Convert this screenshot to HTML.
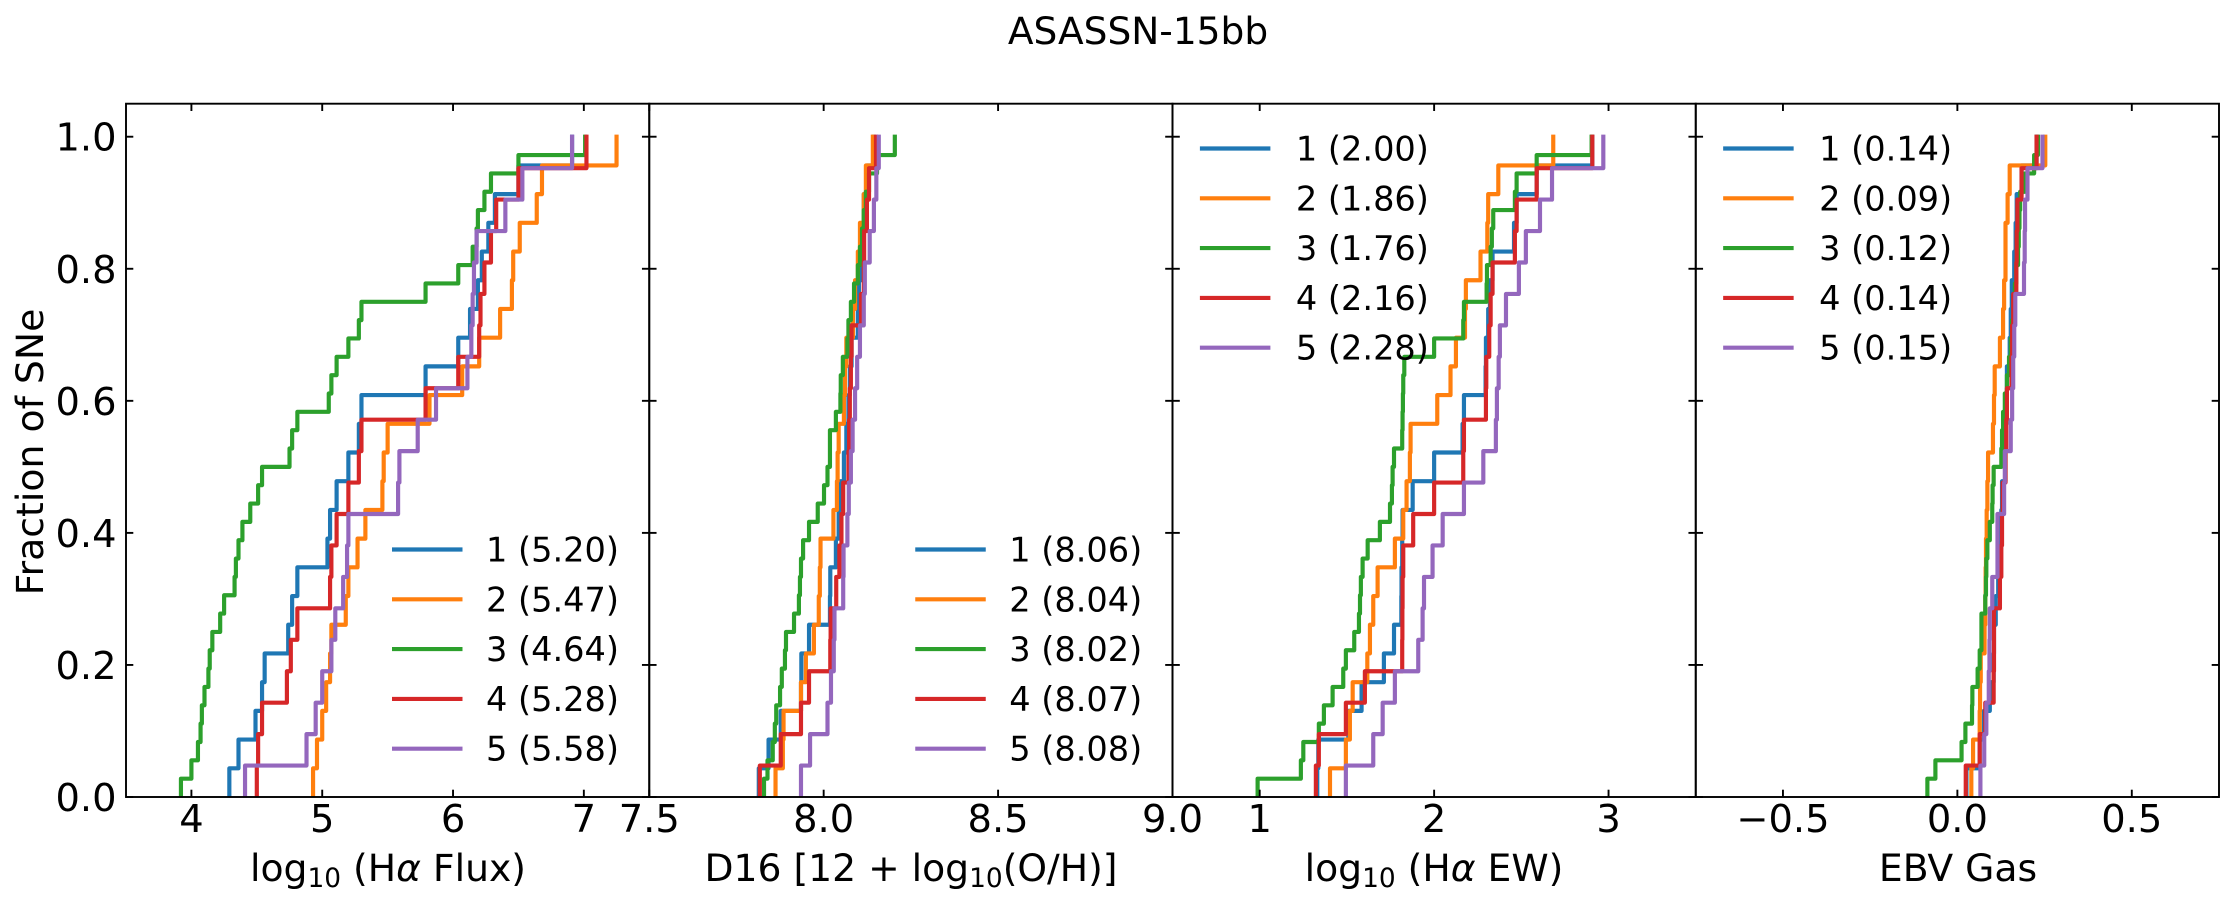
<!DOCTYPE html>
<html lang="en">
<head>
<meta charset="utf-8">
<title>ASASSN-15bb</title>
<style>
html,body{margin:0;padding:0;background:#fff;}
body{width:2233px;height:904px;overflow:hidden;}
svg{display:block;}
text{font-family:"DejaVu Sans","Liberation Sans",sans-serif;fill:#000;}
</style>
</head>
<body>
<svg id="chart" xmlns="http://www.w3.org/2000/svg" width="2233" height="904" viewBox="0 0 2233 904">
  <rect x="0" y="0" width="2233" height="904" fill="#fff"/>
  <text x="1138" y="44" font-size="37.5" text-anchor="middle">ASASSN-15bb</text>
  <text transform="translate(43,452) rotate(-90)" font-size="37.8" text-anchor="middle">Fraction of SNe</text>
  <text x="388" y="881" font-size="37.7" text-anchor="middle">log<tspan font-size="26.4" dy="6">10</tspan><tspan dy="-6"> (H</tspan><tspan font-style="italic">α</tspan> Flux)</text>
  <text x="911" y="881" font-size="37.7" text-anchor="middle">D16 [12 + log<tspan font-size="26.4" dy="6">10</tspan><tspan dy="-6">(O/H)]</tspan></text>
  <text x="1434" y="881" font-size="37.7" text-anchor="middle">log<tspan font-size="26.4" dy="6">10</tspan><tspan dy="-6"> (H</tspan><tspan font-style="italic">α</tspan> EW)</text>
  <text x="1958" y="881" font-size="37.7" text-anchor="middle">EBV Gas</text>
</svg>
<script>
// Sorted sample values of each cumulative distribution, one array per panel and bin.
const fluxBin1 = [4.29,4.36,4.49,4.54,4.56,4.74,4.77,4.81,5.04,5.06,5.11,5.20,5.28,5.30,5.79,6.04,6.13,6.19,6.22,6.27,6.32,6.50,6.91];
const fluxBin2 = [4.93,4.96,5.00,5.03,5.06,5.07,5.18,5.20,5.27,5.33,5.46,5.47,5.50,5.82,6.07,6.20,6.36,6.45,6.46,6.51,6.64,6.68,7.25];
const fluxBin3 = [3.92,4.00,4.05,4.07,4.08,4.10,4.13,4.14,4.16,4.22,4.25,4.33,4.34,4.36,4.39,4.45,4.51,4.54,4.75,4.77,4.81,5.05,5.07,5.11,5.20,5.28,5.30,5.79,6.04,6.15,6.18,6.19,6.24,6.29,6.50,7.01];
const fluxBin4 = [4.50,4.51,4.54,4.73,4.76,4.81,5.06,5.07,5.11,5.20,5.28,5.30,5.79,6.04,6.20,6.21,6.24,6.29,6.33,6.50,7.02];
const fluxBin5 = [4.41,4.88,4.95,5.00,5.07,5.10,5.16,5.19,5.20,5.58,5.59,5.73,5.87,6.11,6.14,6.15,6.16,6.18,6.40,6.53,6.91];

const metalBin1 = [7.814,7.842,7.877,7.935,7.936,7.958,8.018,8.019,8.035,8.043,8.048,8.058,8.065,8.071,8.075,8.080,8.098,8.101,8.107,8.110,8.115,8.124,8.144];
const metalBin2 = [7.862,7.883,7.885,7.935,7.949,7.972,7.986,7.989,7.991,8.028,8.038,8.040,8.043,8.058,8.061,8.065,8.084,8.090,8.098,8.104,8.115,8.121,8.141];
const metalBin3 = [7.829,7.839,7.854,7.860,7.864,7.875,7.880,7.889,7.892,7.915,7.929,7.932,7.935,7.941,7.958,7.983,8.001,8.011,8.018,8.018,8.035,8.048,8.049,8.055,8.068,8.071,8.078,8.087,8.098,8.104,8.110,8.115,8.121,8.130,8.153,8.204];
const metalBin4 = [7.817,7.877,7.935,7.958,8.019,8.020,8.036,8.045,8.051,8.056,8.071,8.073,8.075,8.078,8.080,8.107,8.115,8.116,8.124,8.130,8.150];
const metalBin5 = [7.935,7.961,8.011,8.021,8.029,8.031,8.056,8.057,8.068,8.072,8.078,8.083,8.090,8.096,8.104,8.115,8.118,8.132,8.144,8.151,8.158];

const ewBin1 = [1.330,1.336,1.508,1.584,1.712,1.770,1.812,1.813,1.817,1.819,1.877,2.000,2.163,2.171,2.295,2.297,2.310,2.320,2.335,2.458,2.473,2.588,2.907];
const ewBin2 = [1.403,1.494,1.517,1.533,1.617,1.632,1.651,1.676,1.775,1.823,1.842,1.861,1.865,2.018,2.094,2.125,2.177,2.182,2.266,2.305,2.310,2.368,2.683];
const ewBin3 = [0.988,1.236,1.250,1.339,1.368,1.418,1.479,1.494,1.542,1.569,1.575,1.580,1.590,1.619,1.689,1.747,1.758,1.762,1.770,1.817,1.819,1.821,1.823,1.829,2.000,2.167,2.171,2.301,2.303,2.324,2.331,2.339,2.463,2.473,2.588,2.903];
const ewBin4 = [1.322,1.339,1.494,1.603,1.817,1.818,1.819,1.823,1.880,2.000,2.167,2.171,2.297,2.299,2.316,2.324,2.335,2.463,2.473,2.588,2.907];
const ewBin5 = [1.494,1.651,1.705,1.775,1.909,1.934,1.942,1.991,2.049,2.171,2.282,2.354,2.360,2.370,2.377,2.412,2.486,2.526,2.607,2.676,2.970];

const ebvBin1 = [0.026,0.064,0.076,0.093,0.104,0.105,0.110,0.117,0.124,0.126,0.128,0.138,0.138,0.141,0.142,0.150,0.153,0.156,0.163,0.167,0.170,0.184,0.227];
const ebvBin2 = [0.040,0.045,0.064,0.065,0.067,0.078,0.080,0.081,0.082,0.084,0.086,0.088,0.102,0.105,0.107,0.122,0.131,0.134,0.138,0.138,0.144,0.150,0.252];
const ebvBin3 = [-0.086,-0.063,0.012,0.023,0.042,0.043,0.058,0.064,0.069,0.069,0.080,0.082,0.083,0.086,0.093,0.100,0.101,0.104,0.126,0.128,0.131,0.136,0.142,0.148,0.153,0.157,0.161,0.165,0.169,0.174,0.176,0.178,0.180,0.193,0.220,0.231];
const ebvBin4 = [0.024,0.064,0.080,0.104,0.105,0.105,0.122,0.126,0.128,0.130,0.138,0.140,0.142,0.155,0.157,0.160,0.169,0.170,0.172,0.184,0.227];
const ebvBin5 = [0.066,0.077,0.083,0.090,0.092,0.093,0.100,0.115,0.115,0.134,0.136,0.153,0.157,0.160,0.163,0.166,0.191,0.193,0.194,0.201,0.244];

// Legend medians
const fluxMedians = ['5.20','5.47','4.64','5.28','5.58'];
const metalMedians = ['8.06','8.04','8.02','8.07','8.08'];
const ewMedians = ['2.00','1.86','1.76','2.16','2.28'];
const ebvMedians = ['0.14','0.09','0.12','0.14','0.15'];

// Tick values and labels
const binLabels = ['1','2','3','4','5'];
const yTicks = [0,0.2,0.4,0.6,0.8,1.0];
const yTickLabels = ['0.0','0.2','0.4','0.6','0.8','1.0'];
const fluxTicks = [4,5,6,7];
const fluxTickLabels = ['4','5','6','7'];
const metalTicks = [7.5,8,8.5,9];
const metalTickLabels = ['7.5','8.0','8.5','9.0'];
const ewTicks = [1,2,3];
const ewTickLabels = ['1','2','3'];
const ebvTicks = [-0.5,0,0.5];
const ebvTickLabels = ['\u22120.5','0.0','0.5'];
const xLimFlux = [3.5,7.5];
const xLimMetal = [7.5,9.0];
const xLimEw = [0.5,3.5];
const xLimEbv = [-0.75,0.75];
const yLim = [0,1.05];

const seriesColors = ['#1f77b4','#ff7f0e','#2ca02c','#d62728','#9467bd'];
const NS = 'http://www.w3.org/2000/svg';
const svg = document.getElementById('chart');
const PLOT_TOP = 103.7, PLOT_BOTTOM = 797, PANEL_W = 523.25, PLOT_LEFT = 126;
const TICK_LEN = 7.3, AXIS_LW = 1.9, LINE_LW = 4.17;
const TICK_FONT = 38.4, LEGEND_FONT = 33.6;

const panels = [
  {key:'flux', lim:xLimFlux, ticks:fluxTicks, labels:fluxTickLabels, bins:[fluxBin1,fluxBin2,fluxBin3,fluxBin4,fluxBin5], medians:fluxMedians, legendTop:false},
  {key:'metallicity', lim:xLimMetal, ticks:metalTicks, labels:metalTickLabels, bins:[metalBin1,metalBin2,metalBin3,metalBin4,metalBin5], medians:metalMedians, legendTop:false},
  {key:'ew', lim:xLimEw, ticks:ewTicks, labels:ewTickLabels, bins:[ewBin1,ewBin2,ewBin3,ewBin4,ewBin5], medians:ewMedians, legendTop:true},
  {key:'ebv', lim:xLimEbv, ticks:ebvTicks, labels:ebvTickLabels, bins:[ebvBin1,ebvBin2,ebvBin3,ebvBin4,ebvBin5], medians:ebvMedians, legendTop:true}
];

function yScale(v){
  return PLOT_BOTTOM - (v - yLim[0]) / (yLim[1] - yLim[0]) * (PLOT_BOTTOM - PLOT_TOP);
}
function xScale(lim, left, v){
  return left + (v - lim[0]) / (lim[1] - lim[0]) * PANEL_W;
}
function drawLine(parent, x1, y1, x2, y2, color, width){
  const el = document.createElementNS(NS,'line');
  el.setAttribute('x1',x1);
  el.setAttribute('y1',y1);
  el.setAttribute('x2',x2);
  el.setAttribute('y2',y2);
  el.setAttribute('stroke',color);
  el.setAttribute('stroke-width',width);
  parent.appendChild(el);
  return el;
}
function drawText(parent, x, y, size, anchor, str){
  const el = document.createElementNS(NS,'text');
  el.setAttribute('x',x);
  el.setAttribute('y',y);
  el.setAttribute('font-size',size);
  el.setAttribute('text-anchor',anchor);
  el.textContent = str;
  parent.appendChild(el);
  return el;
}
function stepPath(values, lim, left){
  const n = values.length;
  let d = 'M' + xScale(lim,left,values[0]).toFixed(2) + ' ' + yScale(0).toFixed(2);
  values.forEach(function(v,i){
    const px = xScale(lim,left,v).toFixed(2);
    if(i > 0){ d += 'L' + px + ' ' + yScale(i/n).toFixed(2); }
    d += 'L' + px + ' ' + yScale((i+1)/n).toFixed(2);
  });
  return d;
}

const defs = document.createElementNS(NS,'defs');
svg.appendChild(defs);

panels.forEach(function(p,pi){
  const left = PLOT_LEFT + pi * PANEL_W;
  const right = left + PANEL_W;
  const g = document.createElementNS(NS,'g');
  
  
  svg.appendChild(g);

  const clip = document.createElementNS(NS,'clipPath');
  clip.setAttribute('id','clip-' + p.key);
  const clipRect = document.createElementNS(NS,'rect');
  clipRect.setAttribute('x',left);
  clipRect.setAttribute('y',PLOT_TOP);
  clipRect.setAttribute('width',PANEL_W);
  clipRect.setAttribute('height',PLOT_BOTTOM-PLOT_TOP);
  clip.appendChild(clipRect);
  defs.appendChild(clip);

  p.bins.forEach(function(values,si){
    const path = document.createElementNS(NS,'path');
    path.setAttribute('d',stepPath(values,p.lim,left));
    path.setAttribute('fill','none');
    path.setAttribute('stroke',seriesColors[si]);
    path.setAttribute('stroke-width',LINE_LW);
    path.setAttribute('stroke-linejoin','round');
    path.setAttribute('stroke-linecap','square');
    path.setAttribute('clip-path','url(#clip-' + p.key + ')');
    
    
    g.appendChild(path);
  });

  p.ticks.forEach(function(t,ti){
    const px = xScale(p.lim,left,t);
    const bottomTick = drawLine(g,px,PLOT_BOTTOM,px,PLOT_BOTTOM-TICK_LEN,'#000',AXIS_LW);
    
    
    const topTick = drawLine(g,px,PLOT_TOP,px,PLOT_TOP+TICK_LEN,'#000',AXIS_LW);
    
    
    const label = drawText(g,px,832,TICK_FONT,'middle',p.labels[ti]);
    
    
  });

  yTicks.forEach(function(t,ti){
    const py = yScale(t);
    const leftTick = drawLine(g,left,py,left+TICK_LEN,py,'#000',AXIS_LW);
    
    
    const rightTick = drawLine(g,right,py,right-TICK_LEN,py,'#000',AXIS_LW);
    
    
    if(pi === 0){
      const label = drawText(g,left-9.5,py+14,TICK_FONT,'end',yTickLabels[ti]);
      
      
    }
  });

  const frame = document.createElementNS(NS,'rect');
  frame.setAttribute('x',left);
  frame.setAttribute('y',PLOT_TOP);
  frame.setAttribute('width',PANEL_W);
  frame.setAttribute('height',PLOT_BOTTOM-PLOT_TOP);
  frame.setAttribute('fill','none');
  frame.setAttribute('stroke','#000');
  frame.setAttribute('stroke-width',AXIS_LW);
  
  
  g.appendChild(frame);

  const lineStart = left + (p.legendTop ? 27.4 : 266);
  const textStart = lineStart + (p.legendTop ? 96 : 94);
  const firstY = p.legendTop ? 148.5 : 549.5;
  const legend = document.createElementNS(NS,'g');
  
  
  g.appendChild(legend);
  binLabels.forEach(function(b,si){
    const y = firstY + si * 49.8;
    const handle = drawLine(legend,lineStart,y,lineStart+70.5,y,seriesColors[si],LINE_LW);
    
    
    const entry = drawText(legend,textStart,y+12,LEGEND_FONT,'start',b + ' (' + p.medians[si] + ')');
    
    
  });
});
</script>
</body>
</html>
